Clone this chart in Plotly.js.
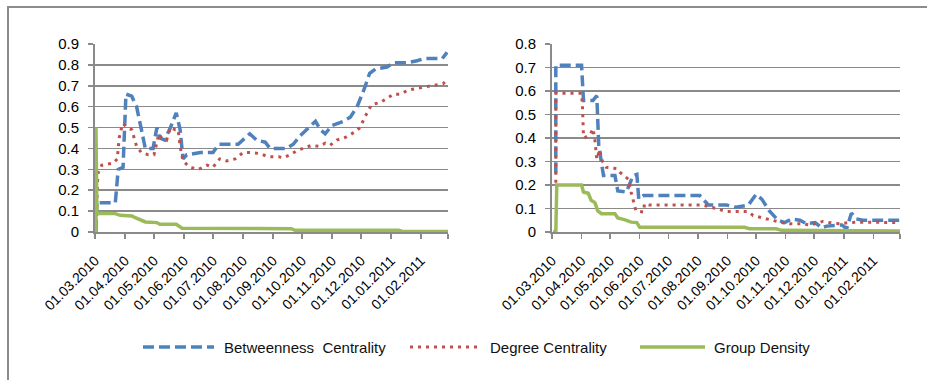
<!DOCTYPE html>
<html>
<head>
<meta charset="utf-8">
<script src="https://cdn.plot.ly/plotly-3.0.1.min.js"></script>
<style>
html,body{margin:0;padding:0;background:#fff;}
#chart{width:927px;height:380px;}
</style>
</head>
<body>
<div id="chart"></div>
<script>
// ---- data ----
const seriesNames = ['Betweenness\u00a0 Centrality', 'Degree Centrality', 'Group Density'];

const tickDates = ['2010-03-01','2010-04-01','2010-05-01','2010-06-01','2010-07-01','2010-08-01',
  '2010-09-01','2010-10-01','2010-11-01','2010-12-01','2011-01-01','2011-02-01','2011-03-01'];
const tickLabels = ['01.03.2010','01.04.2010','01.05.2010','01.06.2010','01.07.2010','01.08.2010',
  '01.09.2010','01.10.2010','01.11.2010','01.12.2010','01.01.2011','01.02.2011'];

// Left chart
const leftBetweennessDates = ['2010-03-02','2010-03-03','2010-03-22','2010-03-25','2010-03-30','2010-04-02','2010-04-08','2010-04-13','2010-04-18','2010-04-22','2010-04-30','2010-05-04','2010-05-07','2010-05-12','2010-05-18','2010-05-24','2010-05-28','2010-05-31','2010-06-04','2010-06-18','2010-07-01','2010-07-07','2010-07-27','2010-08-08','2010-08-15','2010-08-24','2010-08-29','2010-09-15','2010-09-22','2010-09-29','2010-10-08','2010-10-15','2010-10-20','2010-10-25','2010-11-01','2010-11-13','2010-11-20','2010-11-27','2010-12-04','2010-12-10','2010-12-16','2010-12-28','2011-01-04','2011-01-17','2011-01-28','2011-02-04','2011-02-23','2011-02-28'];
const leftBetweennessValues = [0,0.14,0.14,0.30,0.31,0.66,0.65,0.60,0.49,0.40,0.40,0.50,0.45,0.44,0.50,0.57,0.49,0.35,0.37,0.38,0.38,0.42,0.42,0.47,0.44,0.43,0.40,0.40,0.42,0.46,0.50,0.53,0.49,0.47,0.51,0.53,0.55,0.60,0.68,0.76,0.78,0.79,0.81,0.81,0.82,0.83,0.83,0.86];

const leftDegreeDates = ['2010-03-02','2010-03-04','2010-03-08','2010-03-20','2010-03-24','2010-03-26','2010-03-29','2010-03-30','2010-04-03','2010-04-08','2010-04-13','2010-04-18','2010-04-25','2010-05-01','2010-05-06','2010-05-09','2010-05-14','2010-05-18','2010-05-23','2010-05-26','2010-05-28','2010-05-31','2010-06-07','2010-06-16','2010-06-25','2010-07-01','2010-07-08','2010-07-15','2010-07-24','2010-08-01','2010-08-10','2010-08-19','2010-08-27','2010-09-07','2010-09-12','2010-09-19','2010-09-26','2010-10-03','2010-10-11','2010-10-18','2010-10-25','2010-10-30','2010-11-06','2010-11-16','2010-11-25','2010-11-30','2010-12-05','2010-12-12','2010-12-21','2010-12-28','2011-01-04','2011-01-11','2011-01-19','2011-01-31','2011-02-14','2011-02-24','2011-02-28'];
const leftDegreeValues = [0.01,0.28,0.32,0.33,0.35,0.45,0.51,0.52,0.50,0.49,0.41,0.38,0.37,0.37,0.47,0.45,0.44,0.50,0.49,0.49,0.41,0.34,0.31,0.30,0.32,0.31,0.35,0.34,0.35,0.38,0.38,0.375,0.36,0.36,0.355,0.37,0.39,0.40,0.415,0.41,0.425,0.415,0.44,0.455,0.48,0.50,0.55,0.61,0.62,0.64,0.66,0.66,0.68,0.69,0.70,0.71,0.73];

const leftDensityDates = ['2010-03-02','2010-03-02','2010-03-03','2010-03-22','2010-03-27','2010-04-08','2010-04-11','2010-04-17','2010-04-22','2010-05-04','2010-05-07','2010-05-24','2010-05-30','2010-09-20','2010-09-24','2011-01-09','2011-01-14','2011-03-01'];
const leftDensityValues = [0,0.50,0.09,0.088,0.08,0.077,0.07,0.06,0.048,0.045,0.037,0.037,0.018,0.016,0.008,0.008,0.002,0.002];

// Right chart
const rightBetweennessDates = ['2010-03-05','2010-03-05','2010-04-01','2010-04-03','2010-04-13','2010-04-17','2010-04-19','2010-04-22','2010-04-24','2010-05-06','2010-05-09','2010-05-18','2010-05-25','2010-05-29','2010-05-31','2010-06-05','2010-08-03','2010-08-12','2010-08-31','2010-09-10','2010-09-23','2010-10-01','2010-10-07','2010-10-15','2010-10-24','2010-10-31','2010-11-07','2010-11-16','2010-11-23','2010-12-02','2010-12-09','2010-12-14','2010-12-30','2011-01-04','2011-01-09','2011-01-14','2011-01-21','2011-03-01'];
const rightBetweennessValues = [0.25,0.71,0.71,0.56,0.56,0.58,0.37,0.30,0.24,0.24,0.175,0.17,0.24,0.245,0.14,0.155,0.155,0.115,0.115,0.105,0.115,0.16,0.14,0.09,0.05,0.04,0.055,0.05,0.035,0.04,0.018,0.025,0.03,0.014,0.08,0.056,0.05,0.05];

const rightDegreeDates = ['2010-03-05','2010-03-05','2010-04-01','2010-04-02','2010-04-03','2010-04-04','2010-04-10','2010-04-13','2010-04-15','2010-04-17','2010-04-20','2010-04-23','2010-04-27','2010-05-08','2010-05-11','2010-05-20','2010-05-23','2010-05-27','2010-05-28','2010-06-05','2010-06-06','2010-06-11','2010-08-06','2010-08-20','2010-08-31','2010-09-23','2010-09-28','2010-10-08','2010-10-17','2010-10-26','2010-11-05','2010-11-21','2010-11-26','2010-12-03','2010-12-10','2010-12-17','2010-12-28','2011-01-06','2011-01-18','2011-03-01'];
const rightDegreeValues = [0.21,0.59,0.59,0.53,0.41,0.40,0.415,0.44,0.39,0.31,0.35,0.30,0.275,0.27,0.255,0.225,0.17,0.11,0.09,0.085,0.12,0.115,0.115,0.10,0.087,0.087,0.07,0.06,0.05,0.042,0.035,0.035,0.028,0.035,0.045,0.04,0.035,0.04,0.042,0.04];

const rightDensityDates = ['2010-03-02','2010-03-05','2010-03-06','2010-04-01','2010-04-03','2010-04-08','2010-04-11','2010-04-15','2010-04-18','2010-04-22','2010-05-06','2010-05-09','2010-05-16','2010-05-23','2010-05-29','2010-06-01','2010-09-19','2010-09-24','2010-10-22','2010-10-28','2011-03-01'];
const rightDensityValues = [0,0,0.20,0.20,0.17,0.165,0.135,0.125,0.09,0.078,0.078,0.06,0.053,0.042,0.04,0.02,0.02,0.014,0.014,0.007,0.004];

// ---- styles ----
const BLUE = '#4F81BD', RED = '#C0504D', GREEN = '#9BBB59', GRID = '#8a8a8a';
const styles = [
  {color: BLUE, width: 3.5, dash: '11px,5px'},
  {color: RED, width: 3, dash: '3px,5px'},
  {color: GREEN, width: 3.5, dash: 'solid'}
];

function tr(x, y, i, xa, ya) {
  return {x: x, y: y, xaxis: xa, yaxis: ya, type: 'scatter', mode: 'lines',
    name: seriesNames[i], showlegend: false, hoverinfo: 'skip',
    line: {color: styles[i].color, width: styles[i].width, dash: styles[i].dash}};
}

const data = [
  tr(leftBetweennessDates, leftBetweennessValues, 0, 'x', 'y'),
  tr(leftDegreeDates, leftDegreeValues, 1, 'x', 'y'),
  tr(leftDensityDates, leftDensityValues, 2, 'x', 'y'),
  tr(rightBetweennessDates, rightBetweennessValues, 0, 'x2', 'y2'),
  tr(rightDegreeDates, rightDegreeValues, 1, 'x2', 'y2'),
  tr(rightDensityDates, rightDensityValues, 2, 'x2', 'y2')
];

const FONT = 'Liberation Sans, Arial, sans-serif';
function xAxis(domain, anchor) {
  return {domain: domain, anchor: anchor, type: 'date',
    range: [tickDates[0], tickDates[tickDates.length - 1]],
    tickmode: 'array', tickvals: tickDates, ticktext: tickLabels.concat(['']),
    tickangle: -45, ticks: 'outside', ticklen: 5, tickwidth: 1.5, tickcolor: GRID,
    showline: true, linecolor: GRID, linewidth: 2, showgrid: false, zeroline: false,
    layer: 'below traces', automargin: false, ticklabelstandoff: 8,
    tickfont: {family: FONT, size: 14, color: '#000'}};
}
function yAxis(domain, anchor, max) {
  return {domain: domain, anchor: anchor, range: [0, max], dtick: 0.1, tick0: 0,
    ticks: 'outside', ticklen: 5, tickwidth: 1.5, tickcolor: GRID,
    showline: true, linecolor: GRID, linewidth: 2,
    showgrid: true, gridcolor: GRID, gridwidth: 1.5, zeroline: false,
    layer: 'below traces', automargin: false, ticklabelstandoff: 6,
    tickfont: {family: FONT, size: 15, color: '#000'}};
}

const W = 927, H = 380;
const px = v => v / W, py = v => 1 - v / H;

// legend drawn with shapes + text
const legendY = py(347);
const legendItems = [
  {x0: 143, x1: 214, tx: 222},
  {x0: 410, x1: 478, tx: 488},
  {x0: 640, x1: 705, tx: 712}
];
const shapes = [
  {type: 'line', xref: 'paper', yref: 'paper', x0: px(7), x1: px(935), y0: py(7), y1: py(7), line: {color: '#8c8c8c', width: 2}},
  {type: 'line', xref: 'paper', yref: 'paper', x0: px(8), x1: px(8), y0: py(7), y1: py(390), line: {color: '#8c8c8c', width: 2}}
];
const annotations = [];
legendItems.forEach((it, i) => {
  shapes.push({type: 'line', xref: 'paper', yref: 'paper', x0: px(it.x0), x1: px(it.x1), y0: legendY, y1: legendY,
    line: {color: styles[i].color, width: styles[i].width, dash: styles[i].dash}});
  annotations.push({xref: 'paper', yref: 'paper', x: px(it.tx), y: legendY, xanchor: 'left', yanchor: 'middle',
    showarrow: false, text: seriesNames[i], font: {family: FONT, size: 15, color: '#111'}});
});

const yDom = [1 - 232 / H, 1 - 44 / H];
const layout = {
  width: W, height: H,
  margin: {l: 0, r: 0, t: 0, b: 0},
  paper_bgcolor: '#fff', plot_bgcolor: '#fff',
  showlegend: false,
  xaxis: xAxis([px(95), px(448)], 'y'),
  yaxis: yAxis(yDom, 'x', 0.9),
  xaxis2: xAxis([px(552), px(900)], 'y2'),
  yaxis2: yAxis(yDom, 'x2', 0.8),
  shapes: shapes,
  annotations: annotations
};

Plotly.newPlot('chart', data, layout, {displayModeBar: false, staticPlot: true});
</script>
</body>
</html>
